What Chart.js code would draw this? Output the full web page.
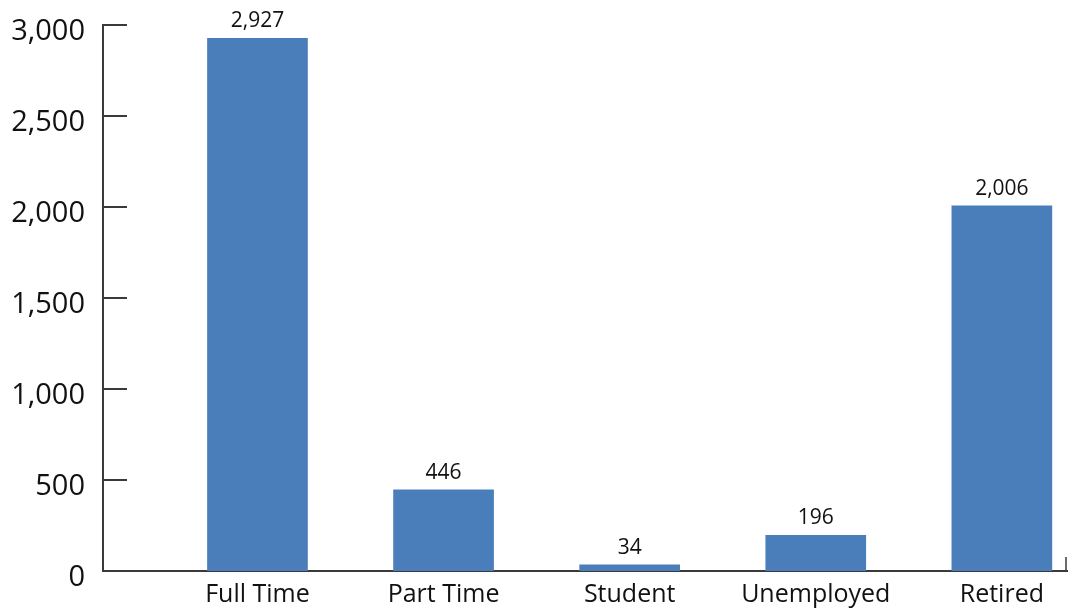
<!DOCTYPE html>
<html>
<head>
<meta charset="utf-8">
<script src="https://cdn.jsdelivr.net/npm/chart.js@4/dist/chart.umd.min.js"></script>
<style>
  html, body { margin: 0; padding: 0; background: #ffffff; }
  #wrap { width: 1069px; height: 613px; }
</style>
</head>
<body>
<div id="wrap"><canvas id="chart" width="1069" height="613"></canvas></div>
<script>
// Employment status counts
const categories = ['Full Time', 'Part Time', 'Student', 'Unemployed', 'Retired'];
const counts = [2927, 446, 34, 196, 2006];
const yTicks = [0, 500, 1000, 1500, 2000, 2500, 3000];

const AXIS_COLOR = '#3a3a3a';
const TEXT_COLOR = '#111111';
const BAR_COLOR = '#4a7ebb';
const FONT = "'Open Sans', 'DejaVu Sans', sans-serif";

const fmt = v => Number(v).toLocaleString('en-US');

// Inward tick marks on the value axis, a small end tick on the category axis,
// and value labels above each bar.
const decorations = {
  id: 'decorations',
  afterDatasetsDraw(chart) {
    const { ctx, chartArea, scales } = chart;
    const y = scales.y;
    ctx.save();
    ctx.strokeStyle = AXIS_COLOR;
    ctx.lineWidth = 2;
    yTicks.forEach(v => {
      if (v === 0) return;
      const py = Math.round(y.getPixelForValue(v));
      ctx.beginPath();
      ctx.moveTo(chartArea.left, py);
      ctx.lineTo(chartArea.left + 24, py);
      ctx.stroke();
    });
    ctx.lineWidth = 1.5;
    ctx.beginPath();
    ctx.moveTo(chartArea.right - 1, chartArea.bottom);
    ctx.lineTo(chartArea.right - 1, chartArea.bottom - 14);
    ctx.stroke();

    const meta = chart.getDatasetMeta(0);
    ctx.fillStyle = TEXT_COLOR;
    ctx.font = "21px " + FONT;
    ctx.textAlign = 'center';
    ctx.textBaseline = 'alphabetic';
    meta.data.forEach((bar, i) => {
      ctx.fillText(fmt(counts[i]), bar.x, bar.y - 11);
    });
    ctx.restore();
  }
};

new Chart(document.getElementById('chart'), {
  type: 'bar',
  data: {
    datasets: [{
      data: counts.map((v, i) => ({ x: i, y: v })),
      backgroundColor: BAR_COLOR,
      borderWidth: 0,
      barThickness: 100
    }]
  },
  options: {
    responsive: false,
    animation: false,
    devicePixelRatio: 1,
    layout: { padding: { top: 25, right: 2, left: 0, bottom: 0 } },
    plugins: {
      legend: { display: false },
      tooltip: { enabled: false }
    },
    scales: {
      x: {
        type: 'linear',
        offset: false,
        min: -0.83,
        max: 4.35,
        grid: { display: false, drawTicks: false },
        border: { display: true, color: AXIS_COLOR, width: 2 },
        afterBuildTicks: axis => { axis.ticks = categories.map((_, i) => ({ value: i })); },
        afterFit: axis => { axis.height = 42; axis.paddingLeft = 0; axis.paddingRight = 0; },
        ticks: {
          autoSkip: false,
          maxRotation: 0,
          padding: 9,
          color: TEXT_COLOR,
          font: { family: FONT, size: 25 },
          callback: v => categories[v] ?? ''
        }
      },
      y: {
        min: 0,
        max: 3000,
        grid: { display: false, drawTicks: false },
        border: { display: true, color: AXIS_COLOR, width: 2 },
        afterBuildTicks: axis => { axis.ticks = yTicks.map(v => ({ value: v })); },
        afterFit: axis => { axis.width = 103; axis.paddingTop = 0; axis.paddingBottom = 0; },
        ticks: {
          padding: 18,
          labelOffset: 7,
          color: TEXT_COLOR,
          font: { family: FONT, size: 29 },
          callback: v => fmt(v)
        }
      }
    }
  },
  plugins: [decorations]
});
</script>
</body>
</html>
